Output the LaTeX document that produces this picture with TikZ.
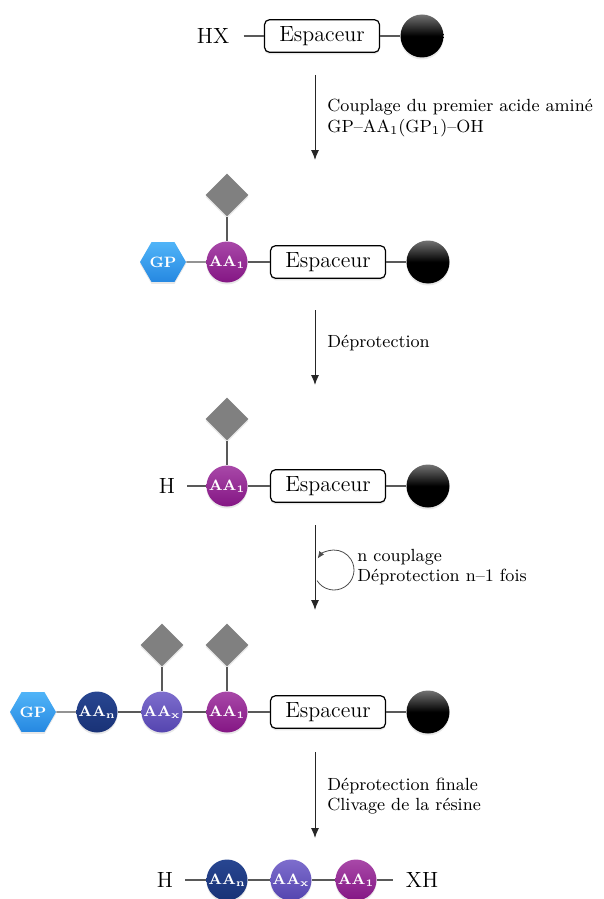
\documentclass[tikz,border=0pt]{standalone}
\usetikzlibrary{shapes.geometric,arrows.meta,shadows}
\definecolor{aaonetop}{RGB}{168,72,168}
\definecolor{aaonebot}{RGB}{132,22,132}
\definecolor{aantop}{RGB}{40,70,145}
\definecolor{aanbot}{RGB}{25,50,118}
\definecolor{aaxtop}{RGB}{125,110,205}
\definecolor{aaxbot}{RGB}{85,68,175}
\definecolor{gptop}{RGB}{80,180,248}
\definecolor{gpbot}{RGB}{38,136,225}
\begin{document}
\begin{tikzpicture}[x=0.5pt,y=0.5pt,
  link/.style={draw=black!65, line width=0.6pt},
  flow/.style={-{Latex[length=5pt,width=4pt]}, line width=0.5pt, draw=black!85},
  loopline/.style={-{Latex[length=3.5pt,width=3pt]}, line width=0.4pt, draw=black!70},
  soft/.style={drop shadow={shadow xshift=0pt, shadow yshift=-1pt, opacity=0.18}},
  aa/.style={circle, minimum size=20.5pt, inner sep=0pt, text=white,
    font=\fontsize{7.5}{8}\selectfont\bfseries, soft},
  aaone/.style={aa, top color=aaonetop, bottom color=aaonebot},
  aan/.style={aa, top color=aantop, bottom color=aanbot},
  aax/.style={aa, top color=aaxtop, bottom color=aaxbot},
  gp/.style={regular polygon, regular polygon sides=6, minimum size=23pt, inner sep=0pt,
    top color=gptop, bottom color=gpbot, text=white,
    font=\fontsize{7.5}{8}\selectfont\bfseries, soft},
  prot/.style={diamond, minimum width=21.5pt, minimum height=21.5pt, inner sep=0pt,
    fill=black!50, soft},
  spacer/.style={draw, rounded corners=2.5pt, line width=0.6pt, minimum width=57.5pt,
    minimum height=14.5pt, fill=white, font=\fontsize{11}{13}\selectfont, soft},
  ball/.style={circle, minimum size=21.5pt, inner sep=0pt, top color=black!55,
    bottom color=black, middle color=black, soft},
  end/.style={font=\fontsize{11}{13}\selectfont, inner sep=2pt},
  lbl/.style={anchor=west, align=left, font=\fontsize{8.8}{10.3}\selectfont, inner sep=0pt}
]
\useasboundingbox (0,0) rectangle (604,-899);

% Row 1
\node[end] (hx) at (213,-36) {HX};
\node[spacer] (e1) at (322,-36) {Espaceur};
\node[ball] (b1) at (422,-36) {};
\draw[link] ([xshift=5]hx.east) -- (e1.west);
\draw[link] (e1) -- (b1);

% Arrow 1
\coordinate (s1) at (315,-75);
\coordinate (t1) at (315,-160);
\draw[flow] (s1) -- (t1);
\node[lbl] (l1) at (327,-118) {Couplage du premier acide aminé\\GP--AA$_1$(GP$_1$)--OH};

% Row 2
\node[gp] (gp2) at (163,-262) {GP};
\node[aaone] (a2) at (227,-262) {AA$_\mathbf{1}$};
\node[prot] (p2) at (227,-195) {};
\node[spacer] (e2) at (328,-262) {Espaceur};
\node[ball] (b2) at (428,-262) {};
\draw[link] (gp2) -- (a2);
\draw[link] (p2) -- (a2);
\draw[link] (a2) -- (e2);
\draw[link] (e2) -- (b2);

% Arrow 2
\coordinate (s2) at (315,-310);
\coordinate (t2) at (315,-385);
\draw[flow] (s2) -- (t2);
\node[lbl] (l2) at (327,-343) {Déprotection};

% Row 3
\node[end] (h3) at (167,-486) {H};
\node[aaone] (a3) at (227,-486) {AA$_\mathbf{1}$};
\node[prot] (p3) at (227,-419) {};
\node[spacer] (e3) at (328,-486) {Espaceur};
\node[ball] (b3) at (428,-486) {};
\draw[link] ([xshift=4]h3.east) -- (a3);
\draw[link] (p3) -- (a3);
\draw[link] (a3) -- (e3);
\draw[link] (e3) -- (b3);

% Arrow 3 with loop
\coordinate (s3) at (315,-525);
\coordinate (t3) at (315,-610);
\draw[flow] (s3) -- (t3);
\coordinate (lc) at (334,-570);
\draw[loopline] ([shift={(212:20)}]lc) arc[start angle=212, end angle=505, radius=20];
\node[lbl] (l3) at (357,-567) {n couplage\\Déprotection n--1 fois};

% Row 4
\node[gp] (gp4) at (33,-712) {GP};
\node[aan] (n4) at (97,-712) {AA\textsubscript{n}};
\node[aax] (x4) at (162,-712) {AA\textsubscript{x}};
\node[aaone] (a4) at (227,-712) {AA$_\mathbf{1}$};
\node[prot] (px4) at (162,-645) {};
\node[prot] (pa4) at (227,-645) {};
\node[spacer] (e4) at (328,-712) {Espaceur};
\node[ball] (b4) at (428,-712) {};
\draw[link] (gp4) -- (n4);
\draw[link] (n4) -- (x4);
\draw[link] (x4) -- (a4);
\draw[link] (px4) -- (x4);
\draw[link] (pa4) -- (a4);
\draw[link] (a4) -- (e4);
\draw[link] (e4) -- (b4);

% Arrow 4
\coordinate (s4) at (315,-752);
\coordinate (t4) at (315,-838);
\draw[flow] (s4) -- (t4);
\node[lbl] (l4) at (327,-796) {Déprotection finale\\Clivage de la résine};

% Row 5
\node[end] (h5) at (165,-880) {H};
\node[aan] (n5) at (227,-880) {AA\textsubscript{n}};
\node[aax] (x5) at (291,-880) {AA\textsubscript{x}};
\node[aaone] (a5) at (356,-880) {AA$_\mathbf{1}$};
\node[end] (xh5) at (422,-880) {XH};
\draw[link] ([xshift=4]h5.east) -- (n5);
\draw[link] (n5) -- (x5);
\draw[link] (x5) -- (a5);
\draw[link] (a5) -- ([xshift=-4]xh5.west);
\end{tikzpicture}
\end{document}
